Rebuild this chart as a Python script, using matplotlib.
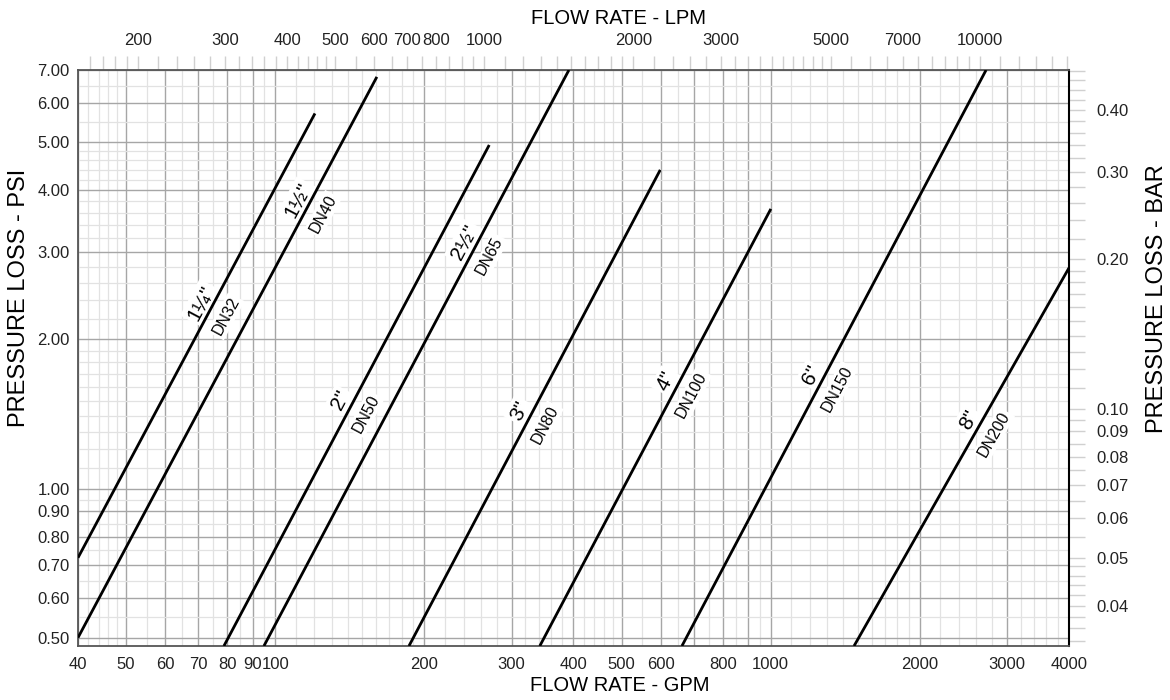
import math

import matplotlib
matplotlib.use('Agg')
import matplotlib.pyplot as plt
import numpy as np
from matplotlib.ticker import NullFormatter

plt.rcParams['font.family'] = ['Liberation Sans', 'DejaVu Sans']

# pipe sizes: straight lines on log-log paper (GPM, PSI)
SIZES = ['1¼"', '1½"', '2"', '2½"', '3"', '4"', '6"', '8"']
DN = ['DN32', 'DN40', 'DN50', 'DN65', 'DN80', 'DN100', 'DN150', 'DN200']
GPM_START = [40, 40, 78.8, 94.9, 186.2, 342, 662, 1473]
PSI_START = [0.725, 0.50, 0.481, 0.481, 0.481, 0.481, 0.481, 0.481]
GPM_END = [120.3, 160.4, 270.4, 391.6, 598.6, 1000.8, 2721, 4000]
PSI_END = [5.72, 6.78, 4.94, 7.0, 4.40, 3.67, 7.0, 2.79]
LABEL_GPM = [74.2, 116.5, 142.2, 252.7, 326.8, 646, 1269, 2632]

GPM_GRID = [40, 50, 60, 70, 80, 90, 100, 200, 300, 400, 500, 600, 700, 800, 900,
            1000, 2000, 3000, 4000]
GPM_LABELED = [40, 50, 60, 70, 80, 90, 100, 200, 300, 400, 500, 600, 800, 1000,
               2000, 3000, 4000]
PSI_GRID = [0.5, 0.6, 0.7, 0.8, 0.9, 1.0, 2.0, 3.0, 4.0, 5.0, 6.0, 7.0]
LPM_LABELED = [200, 300, 400, 500, 600, 700, 800, 1000, 2000, 3000, 5000, 7000, 10000]
BAR_LABELED = [0.04, 0.05, 0.06, 0.07, 0.08, 0.09, 0.10, 0.20, 0.30, 0.40]

LPM_PER_GPM = 3.78541
PSI_PER_BAR = 14.5038
XLIM = (40, 4000)
YLIM = (0.481, 7.0)


def subdivisions(lo, hi):
    # log paper rulings: fine steps inside each decade
    steps = np.concatenate([np.arange(1, 2, 0.1), np.arange(2, 5, 0.2), np.arange(5, 10, 0.5)])
    out = []
    for dec in 10.0 ** np.arange(-3, 6):
        for m in steps:
            v = round(dec * m, 6)
            if lo <= v <= hi:
                out.append(v)
    return out


fig = plt.figure(figsize=(11.7, 7.0), dpi=100)
ax = fig.add_axes([78 / 1170, 54 / 700, 991 / 1170, 576 / 700])
ax.set_xscale('log')
ax.set_yscale('log')
ax.set_xlim(*XLIM)
ax.set_ylim(*YLIM)

ax.set_xticks(GPM_GRID, [str(v) if v in GPM_LABELED else '' for v in GPM_GRID])
ax.set_xticks(subdivisions(*XLIM), minor=True)
ax.set_yticks(PSI_GRID, [f'{v:.2f}' for v in PSI_GRID])
ax.set_yticks(subdivisions(*YLIM), minor=True)
ax.xaxis.set_minor_formatter(NullFormatter())
ax.yaxis.set_minor_formatter(NullFormatter())
ax.tick_params(which='both', length=0, labelsize=12, colors='#222222')
ax.tick_params(axis='x', pad=8)
ax.tick_params(axis='y', pad=6)
ax.grid(which='minor', color='#e2e2e2', linewidth=0.9)
ax.grid(which='major', color='#a6a6a6', linewidth=1.0)
ax.set_axisbelow(True)
for side in ['left', 'bottom', 'top']:
    ax.spines[side].set_color('#555555')
    ax.spines[side].set_linewidth(1.3)
ax.spines['right'].set_color('black')
ax.spines['right'].set_linewidth(1.5)

# top axis in litres per minute
secx = ax.secondary_xaxis('top', functions=(lambda g: g * LPM_PER_GPM, lambda l: l / LPM_PER_GPM))
secx.set_xticks(LPM_LABELED, [str(v) for v in LPM_LABELED])
secx.set_xticks(subdivisions(XLIM[0] * LPM_PER_GPM, XLIM[1] * LPM_PER_GPM), minor=True)
secx.xaxis.set_minor_formatter(NullFormatter())
secx.tick_params(which='both', length=10, width=1, color='#d0d0d0', labelsize=12, pad=6,
                 labelcolor='#222222')
secx.spines['top'].set_visible(False)

# right axis in bar
secy = ax.secondary_yaxis('right', functions=(lambda p: p / PSI_PER_BAR, lambda b: b * PSI_PER_BAR))
secy.set_yticks(BAR_LABELED, [f'{v:.2f}' for v in BAR_LABELED])
secy.set_yticks(subdivisions(YLIM[0] / PSI_PER_BAR, YLIM[1] / PSI_PER_BAR), minor=True)
secy.yaxis.set_minor_formatter(NullFormatter())
secy.tick_params(which='both', length=11.5, width=1, color='#d0d0d0', labelsize=12, pad=8,
                 labelcolor='#222222')
secy.spines['right'].set_visible(False)

box = dict(boxstyle='square,pad=0.12', facecolor='white', edgecolor='none')
for i in range(len(SIZES)):
    xs, ys, xe, ye = GPM_START[i], PSI_START[i], GPM_END[i], PSI_END[i]
    ax.plot([xs, xe], [ys, ye], color='black', linewidth=2.0, solid_capstyle='butt', zorder=4)

    lx = LABEL_GPM[i]
    t = math.log(lx / xs) / math.log(xe / xs)
    ly = ys * (ye / ys) ** t
    p1 = ax.transData.transform((xs, ys))
    p2 = ax.transData.transform((xe, ye))
    ang = math.atan2(p2[1] - p1[1], p2[0] - p1[0])
    nx, ny = -math.sin(ang), math.cos(ang)
    ax.annotate(SIZES[i], (lx, ly), xytext=(nx * 8.6, ny * 8.6), textcoords='offset points',
                rotation=math.degrees(ang), rotation_mode='anchor', ha='center', va='center',
                fontsize=15, bbox=box, zorder=3)
    ax.annotate(DN[i], (lx, ly), xytext=(-nx * 12.2, -ny * 12.2), textcoords='offset points',
                rotation=math.degrees(ang), rotation_mode='anchor', ha='center', va='center',
                fontsize=11.5, bbox=box, zorder=3)

fig.text(0.529, 0.973, 'FLOW RATE - LPM', ha='center', va='center', fontsize=14.5)
fig.text(0.530, 0.021, 'FLOW RATE - GPM', ha='center', va='center', fontsize=14.5)
fig.text(0.016, 0.574, 'PRESSURE LOSS - PSI', ha='center', va='center', rotation=90, fontsize=17)
fig.text(0.989, 0.574, 'PRESSURE LOSS - BAR', ha='center', va='center', rotation=90, fontsize=17)

fig.savefig('out.png', dpi=100)
